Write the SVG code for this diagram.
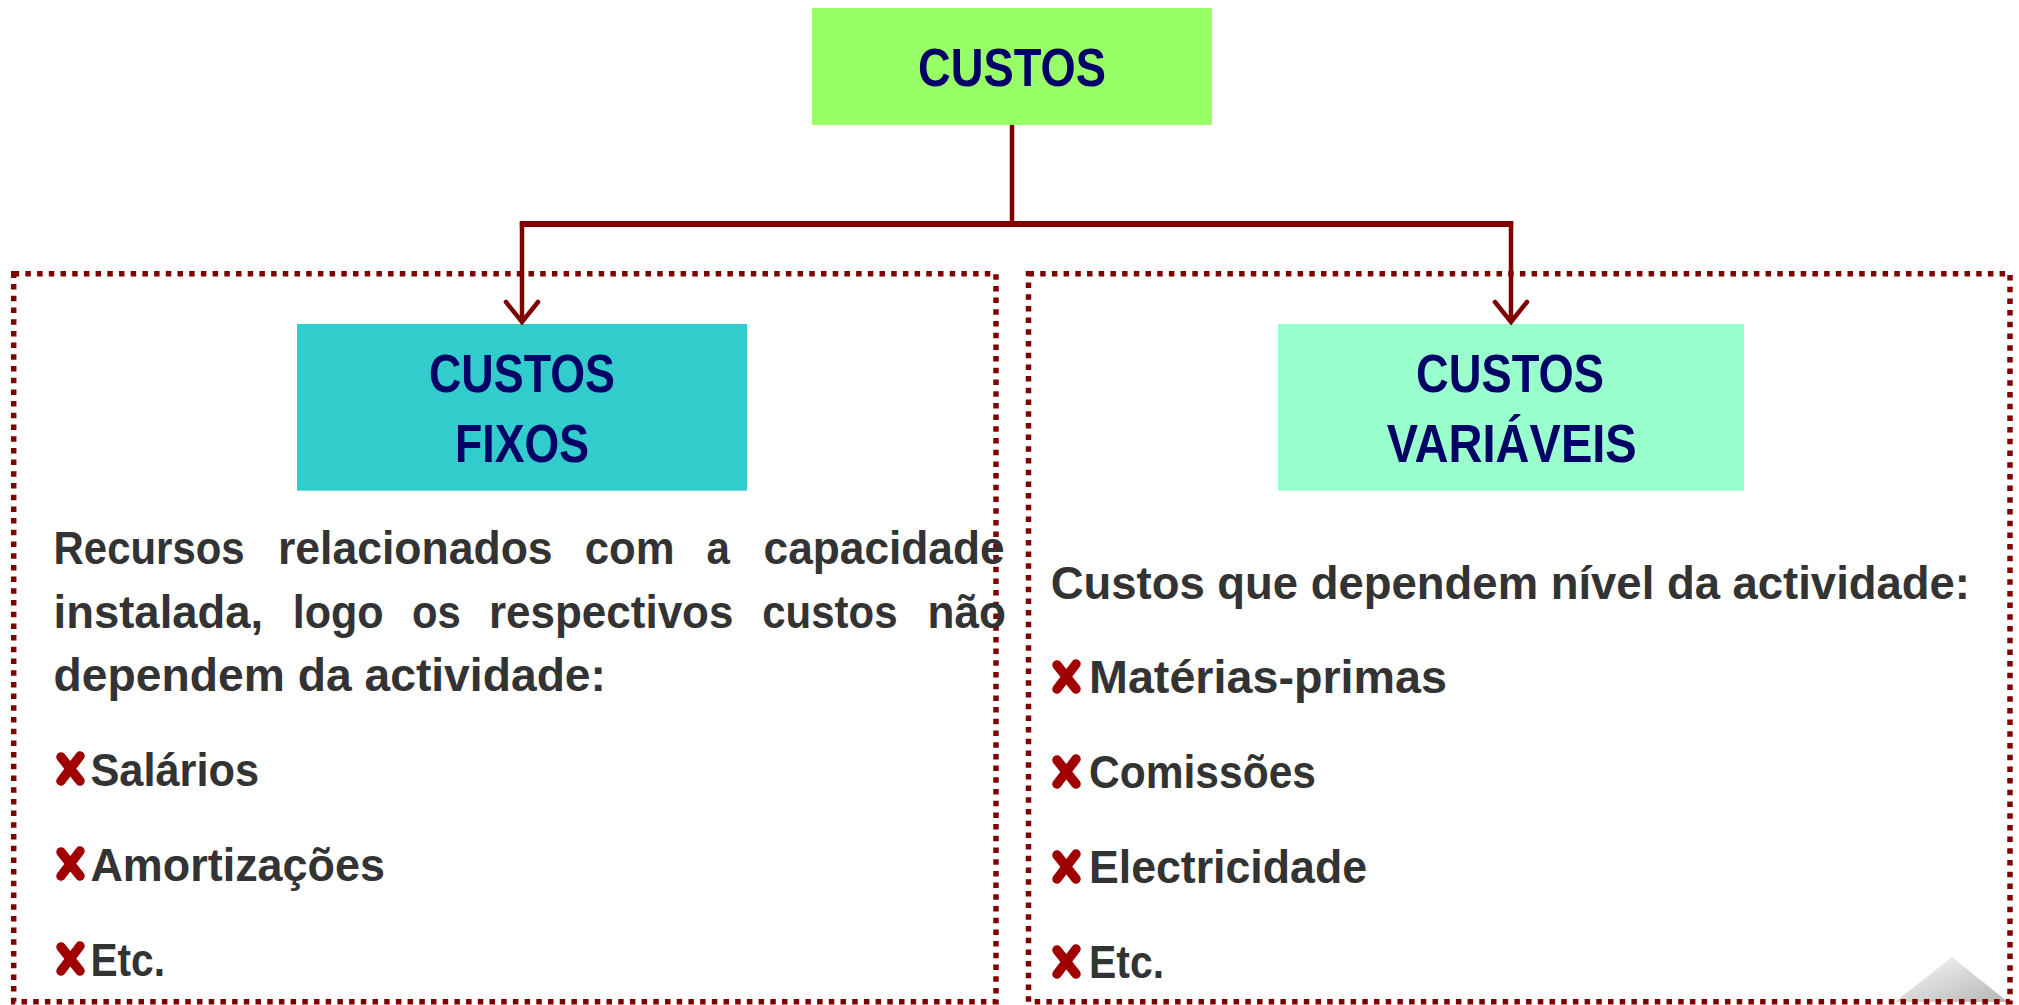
<svg xmlns="http://www.w3.org/2000/svg" width="2019" height="1005" viewBox="0 0 2019 1005">
<style>
.head{font-family:"Liberation Sans",Arial,sans-serif;font-weight:bold;font-size:53px;fill:#000066;text-anchor:middle}
.body{font-family:"Liberation Sans",Arial,sans-serif;font-weight:bold;font-size:46px;fill:#333333}
.frame{fill:none;stroke:#800000;stroke-width:5.5;stroke-dasharray:5.5 6.2}
.conn{fill:none;stroke:#800000;stroke-linecap:butt}
.arrow{fill:none;stroke:#800000;stroke-width:4.5;stroke-linecap:round;stroke-linejoin:miter}
</style>
<defs>
<g id="xmark">
<path d="M5,5 L24,29 M24,4 L5,29" fill="none" stroke="#a00000" stroke-width="9.5" stroke-linecap="round"/>
</g>
<linearGradient id="curl" x1="0" y1="0" x2="1" y2="1">
<stop offset="0" stop-color="#fafafa"/>
<stop offset="1" stop-color="#b5b5b5"/>
</linearGradient>
</defs>
<rect width="2019" height="1005" fill="#ffffff"/>

<polygon points="1895,1002 1952,957 2008,1002" fill="url(#curl)"/>

<g id="frames">
<rect class="frame" x="13.7" y="273.7" width="982.3" height="728"/>
<rect class="frame" x="1028.5" y="273.7" width="981.5" height="728"/>
</g>

<g id="node-custos">
<rect x="812" y="8" width="400" height="117" fill="#99ff66"/>
<text class="head" x="1012" y="86" textLength="188" lengthAdjust="spacingAndGlyphs">CUSTOS</text>
</g>

<g id="node-fixos">
<rect x="297" y="324" width="450" height="166.7" fill="#33cccc"/>
<text class="head" x="522" y="391.7" textLength="186" lengthAdjust="spacingAndGlyphs">CUSTOS</text>
<text class="head" x="522" y="461.7" textLength="134" lengthAdjust="spacingAndGlyphs">FIXOS</text>
</g>

<g id="node-variaveis">
<rect x="1278" y="324" width="466" height="166.7" fill="#99ffcc"/>
<text class="head" x="1510" y="391.7" textLength="188" lengthAdjust="spacingAndGlyphs">CUSTOS</text>
<text class="head" x="1511.7" y="461.7" textLength="250" lengthAdjust="spacingAndGlyphs">VARIÁVEIS</text>
</g>

<g id="connectors">
<line class="conn" x1="1012" y1="125" x2="1012" y2="224" stroke-width="4.5"/>
<line class="conn" x1="519.8" y1="224" x2="1513.2" y2="224" stroke-width="6"/>
<line class="conn" x1="522" y1="222" x2="522" y2="321" stroke-width="4.5"/>
<line class="conn" x1="1511" y1="222" x2="1511" y2="321" stroke-width="4.5"/>
<path class="arrow" d="M506,302 L522,322 L538,302"/>
<path class="arrow" d="M1495,302 L1511,322 L1527,302"/>
</g>

<g id="text-fixos">
<text class="body" x="53.6" y="564" textLength="191" lengthAdjust="spacingAndGlyphs">Recursos</text>
<text class="body" x="278" y="564" textLength="274.6" lengthAdjust="spacingAndGlyphs">relacionados</text>
<text class="body" x="584.7" y="564" textLength="89.8" lengthAdjust="spacingAndGlyphs">com</text>
<text class="body" x="706.6" y="564" textLength="23.4" lengthAdjust="spacingAndGlyphs">a</text>
<text class="body" x="763.6" y="564" textLength="241" lengthAdjust="spacingAndGlyphs">capacidade</text>
<text class="body" x="53.6" y="627.7" textLength="209.6" lengthAdjust="spacingAndGlyphs">instalada,</text>
<text class="body" x="292.7" y="627.7" textLength="91" lengthAdjust="spacingAndGlyphs">logo</text>
<text class="body" x="412" y="627.7" textLength="48.8" lengthAdjust="spacingAndGlyphs">os</text>
<text class="body" x="489" y="627.7" textLength="244.4" lengthAdjust="spacingAndGlyphs">respectivos</text>
<text class="body" x="762.2" y="627.7" textLength="135.3" lengthAdjust="spacingAndGlyphs">custos</text>
<text class="body" x="927.6" y="627.7" textLength="78.4" lengthAdjust="spacingAndGlyphs">não</text>
<text class="body" x="53.6" y="691" textLength="552.4" lengthAdjust="spacingAndGlyphs">dependem da actividade:</text>
<use href="#xmark" x="56" y="752"/>
<text class="body" x="90.4" y="786" textLength="168.6" lengthAdjust="spacingAndGlyphs">Salários</text>
<use href="#xmark" x="56" y="847"/>
<text class="body" x="90.4" y="881" textLength="294.6" lengthAdjust="spacingAndGlyphs">Amortizações</text>
<use href="#xmark" x="56" y="942"/>
<text class="body" x="90.4" y="976" textLength="74.6" lengthAdjust="spacingAndGlyphs">Etc.</text>
</g>

<g id="text-variaveis">
<text class="body" x="1050.7" y="599" textLength="919.3" lengthAdjust="spacingAndGlyphs">Custos que dependem nível da actividade:</text>
<use href="#xmark" x="1052" y="660"/>
<text class="body" x="1089" y="693.3" textLength="358" lengthAdjust="spacingAndGlyphs">Matérias-primas</text>
<use href="#xmark" x="1052" y="755"/>
<text class="body" x="1089" y="788.3" textLength="227" lengthAdjust="spacingAndGlyphs">Comissões</text>
<use href="#xmark" x="1052" y="850"/>
<text class="body" x="1089" y="883.3" textLength="278" lengthAdjust="spacingAndGlyphs">Electricidade</text>
<use href="#xmark" x="1052" y="945"/>
<text class="body" x="1089" y="978.3" textLength="75" lengthAdjust="spacingAndGlyphs">Etc.</text>
</g>
</svg>
